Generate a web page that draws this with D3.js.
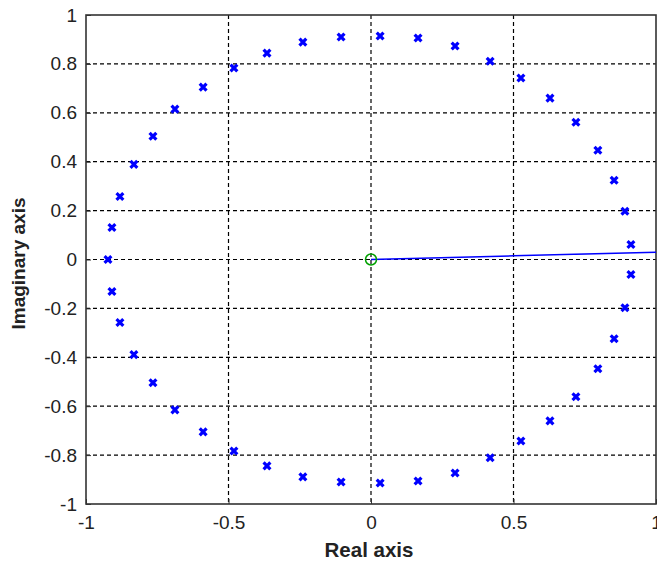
<!DOCTYPE html>
<html>
<head>
<meta charset="utf-8">
<script src="https://cdn.jsdelivr.net/npm/d3@7"></script>
<style>
  html, body { margin: 0; padding: 0; background: #fff; }
  svg { display: block; }
  text { font-family: "Liberation Sans", Arial, sans-serif; fill: #222; }
</style>
</head>
<body>
<svg id="chart" width="657" height="562"></svg>
<script>
// Open-loop poles (x markers)
const poleRe = [0.032, 0.165, 0.295, 0.418, 0.526, 0.628, 0.719, 0.796, 0.853, 0.891, 0.912,
                0.912, 0.891, 0.853, 0.796, 0.719, 0.628, 0.526, 0.418, 0.295, 0.165, 0.032,
                -0.105, -0.239, -0.365, -0.481, -0.589, -0.688, -0.765, -0.832, -0.881, -0.909,
                -0.923,
                -0.909, -0.881, -0.832, -0.765, -0.688, -0.589, -0.481, -0.365, -0.239, -0.105];
const poleIm = [0.914, 0.906, 0.873, 0.811, 0.742, 0.660, 0.561, 0.447, 0.324, 0.197, 0.061,
                -0.061, -0.197, -0.324, -0.447, -0.561, -0.660, -0.742, -0.811, -0.873, -0.906, -0.914,
                0.910, 0.889, 0.844, 0.783, 0.705, 0.615, 0.504, 0.389, 0.258, 0.131,
                0.000,
                -0.131, -0.258, -0.389, -0.504, -0.615, -0.705, -0.783, -0.844, -0.889, -0.910];

// Zero (o marker)
const zeroRe = [0];
const zeroIm = [0];

// Locus branch leaving the zero
const locusRe = [0, 0.5, 1.0];
const locusIm = [0, 0.015, 0.030];

const xTicks = [-1, -0.5, 0, 0.5, 1];
const yTicks = [-1, -0.8, -0.6, -0.4, -0.2, 0, 0.2, 0.4, 0.6, 0.8, 1];

const svg = d3.select("#chart");
const m = { left: 86, right: 656, top: 15, bottom: 504 };

const x = d3.scaleLinear().domain([-1, 1]).range([m.left, m.right]);
const y = d3.scaleLinear().domain([-1, 1]).range([m.bottom, m.top]);

// plain hyphen for negatives
const fmt = d => String(d);

// grid
const grid = svg.append("g");
grid.selectAll("line.vx").data(xTicks.slice(1, -1)).join("line")
  .attr("x1", d => x(d)).attr("x2", d => x(d))
  .attr("y1", m.top).attr("y2", m.bottom)
  .attr("stroke", "#000").attr("stroke-width", 1.2).attr("stroke-dasharray", "4,3");
grid.selectAll("line.hy").data(yTicks.slice(1, -1)).join("line")
  .attr("y1", d => y(d)).attr("y2", d => y(d))
  .attr("x1", m.left).attr("x2", m.right)
  .attr("stroke", "#000").attr("stroke-width", 1.2).attr("stroke-dasharray", "4,3");

// axes
const xAxis = d3.axisBottom(x).tickValues(xTicks).tickSize(-5).tickPadding(12).tickFormat(fmt);
const yAxis = d3.axisLeft(y).tickValues(yTicks).tickSize(-5).tickPadding(9).tickFormat(fmt);

const gx = svg.append("g").attr("transform", `translate(0,${m.bottom})`).call(xAxis);
const gy = svg.append("g").attr("transform", `translate(${m.left},0)`).call(yAxis);
[gx, gy].forEach(g => {
  g.select(".domain").remove();
  g.selectAll(".tick line").attr("stroke", "#333");
  g.selectAll(".tick text").attr("font-size", 19).attr("fill", "#222")
    .style("font-family", '"Liberation Sans", Arial, sans-serif');
});

// frame
svg.append("rect")
  .attr("x", m.left).attr("y", m.top)
  .attr("width", m.right - m.left).attr("height", m.bottom - m.top)
  .attr("fill", "none").attr("stroke", "#333").attr("stroke-width", 1.6);

// locus line
svg.append("path")
  .datum(locusRe.map((r, i) => [r, locusIm[i]]))
  .attr("d", d3.line().x(d => x(d[0])).y(d => y(d[1])))
  .attr("fill", "none").attr("stroke", "#0000ff").attr("stroke-width", 1.5);

// poles
const s = 3.4;
const poles = svg.append("g");
poleRe.forEach((r, i) => {
  const cx = x(r), cy = y(poleIm[i]);
  poles.append("path")
    .attr("d", `M${cx - s},${cy - s}L${cx + s},${cy + s}M${cx - s},${cy + s}L${cx + s},${cy - s}`)
    .attr("stroke", "#0000ff").attr("stroke-width", 3.2).attr("fill", "none");
});

// zero
svg.selectAll("circle.zero").data(zeroRe).join("circle")
  .attr("cx", d => x(d)).attr("cy", (d, i) => y(zeroIm[i])).attr("r", 5.5)
  .attr("fill", "none").attr("stroke", "#00a000").attr("stroke-width", 1.5);

// axis titles
svg.append("text")
  .attr("x", (m.left + m.right) / 2 - 2).attr("y", 557)
  .attr("text-anchor", "middle").attr("font-size", 20.5).attr("font-weight", "bold")
  .text("Real axis");
svg.append("text")
  .attr("transform", `translate(25,${(m.top + m.bottom) / 2 + 4}) rotate(-90)`)
  .attr("text-anchor", "middle").attr("font-size", 19).attr("font-weight", "bold")
  .text("Imaginary axis");
</script>
</body>
</html>
